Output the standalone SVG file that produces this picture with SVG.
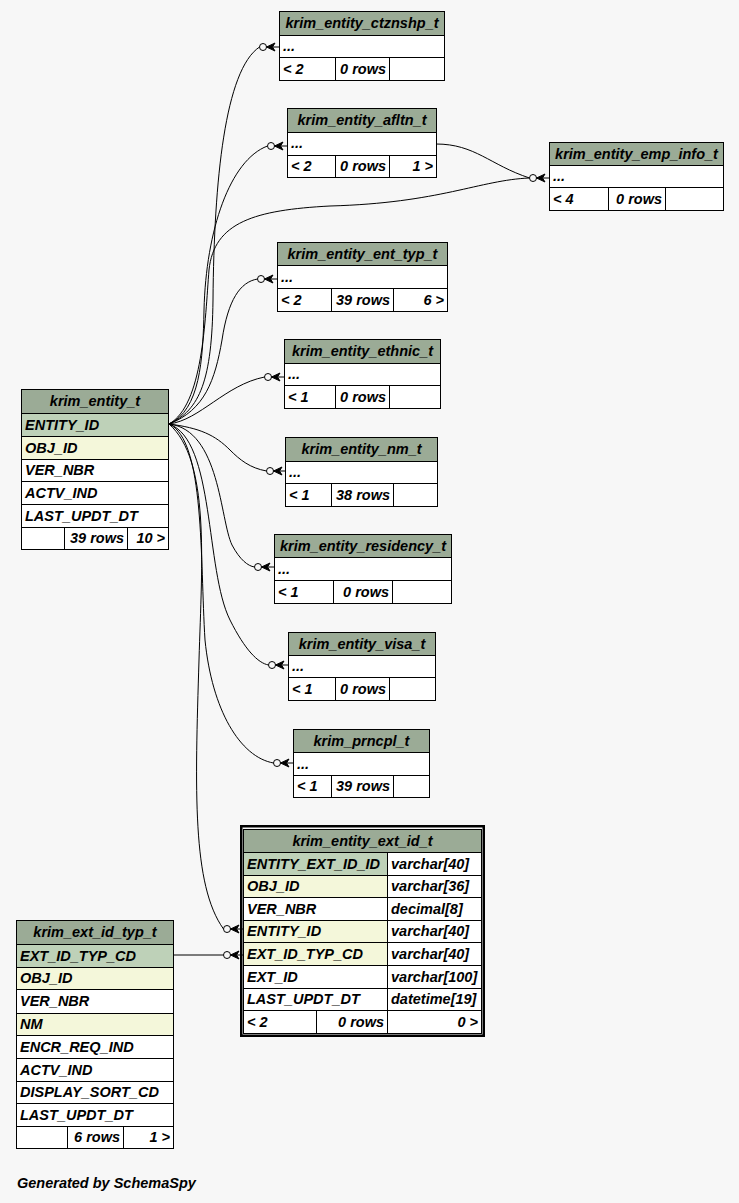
<svg xmlns="http://www.w3.org/2000/svg" width="739" height="1203" viewBox="0 0 739 1203">
<style>
text{font-family:"Liberation Sans",Arial,Helvetica,sans-serif;font-weight:bold;font-style:italic;font-size:14.5px;fill:#000}
.m{text-anchor:middle}
.e{text-anchor:end}
.t{fill:#9bab96;stroke:#000;stroke-width:1}
.c{fill:#fff;stroke:#000;stroke-width:1}
.pk{fill:#bed1b8;stroke:#000;stroke-width:1}
.ix{fill:#f4f7da;stroke:#000;stroke-width:1}
.ln{fill:none;stroke:#000;stroke-width:1}
.dot{fill:#f7f7f7;stroke:#000;stroke-width:1}
.crow{fill:#000;stroke:#000;stroke-width:1;stroke-linejoin:miter}
</style>
<defs>
<g id="end">
<circle class="dot" cx="-16" cy="0" r="3.5"/>
<path class="crow" d="M-12.5,0 L-4,-4 L-6.5,0 L-4,4 Z M-6.5,0 L0,0"/>
</g>
</defs>
<rect width="739" height="1203" fill="#f7f7f7"/>

<g id="connectors">
<path class="ln" d="M169,424 C200,410 212,380 213,300 C214,180 225,70 259.5,47"/>
<path class="ln" d="M169,424 C200,410 203,360 204,310 C206,230 230,160 267.5,146"/>
<path class="ln" d="M169,424 C203,405 205,320 209,270 C214,222 255,210 330,206 C440,203 480,180 529.5,178"/>
<path class="ln" d="M436,144 C475,144 490,165 529.5,178"/>
<path class="ln" d="M169,424 C205,410 215,380 222,340 C228,300 240,282 257.5,279"/>
<path class="ln" d="M169,424 C200,420 225,385 264.5,377"/>
<path class="ln" d="M169,424 C200,428 215,435 230,450 C240,460 250,468 266.5,471"/>
<path class="ln" d="M169,424 C220,430 220,520 232,545 C240,560 248,566 254.5,567"/>
<path class="ln" d="M169,424 C215,440 205,570 230,620 C245,650 258,663 268.5,665"/>
<path class="ln" d="M169,424 C205,440 200,560 205,640 C212,710 240,757 273.5,763"/>
<path class="ln" d="M169,424 C210,460 202,560 199,660 C195,790 192,885 223.5,929"/>
<path class="ln" d="M173,955 L223.5,955"/>
<use href="#end" x="279" y="47"/>
<use href="#end" x="287" y="146"/>
<use href="#end" x="549" y="178"/>
<use href="#end" x="277" y="279"/>
<use href="#end" x="284" y="377"/>
<use href="#end" x="286" y="471"/>
<use href="#end" x="274" y="567"/>
<use href="#end" x="288" y="665"/>
<use href="#end" x="293" y="763"/>
<use href="#end" x="243" y="929"/>
<use href="#end" x="243" y="955"/>
</g>

<g id="krim_entity_ctznshp_t">
<rect class="t" x="279.5" y="11.5" width="165" height="24"/>
<rect class="c" x="279.5" y="35.5" width="165" height="22"/>
<rect class="c" x="279.5" y="57.5" width="56" height="23"/>
<rect class="c" x="335.5" y="57.5" width="54" height="23"/>
<rect class="c" x="389.5" y="57.5" width="55" height="23"/>
<text class="m" x="362" y="28">krim_entity_ctznshp_t</text>
<text x="283" y="51">...</text>
<text x="283" y="74">&lt; 2</text>
<text class="e" x="386" y="74">0 rows</text>
</g>

<g id="krim_entity_afltn_t">
<rect class="t" x="287.5" y="108.5" width="149" height="24"/>
<rect class="c" x="287.5" y="132.5" width="149" height="23"/>
<rect class="c" x="287.5" y="155.5" width="48" height="22"/>
<rect class="c" x="335.5" y="155.5" width="54" height="22"/>
<rect class="c" x="389.5" y="155.5" width="47" height="22"/>
<text class="m" x="362" y="125">krim_entity_afltn_t</text>
<text x="291" y="148">...</text>
<text x="291" y="171">&lt; 2</text>
<text class="e" x="386" y="171">0 rows</text>
<text class="e" x="433" y="171">1 &gt;</text>
</g>

<g id="krim_entity_emp_info_t">
<rect class="t" x="549.5" y="142.5" width="174" height="23"/>
<rect class="c" x="549.5" y="165.5" width="174" height="22"/>
<rect class="c" x="549.5" y="187.5" width="59" height="23"/>
<rect class="c" x="608.5" y="187.5" width="57" height="23"/>
<rect class="c" x="665.5" y="187.5" width="58" height="23"/>
<text class="m" x="636.5" y="159">krim_entity_emp_info_t</text>
<text x="553" y="181">...</text>
<text x="553" y="204">&lt; 4</text>
<text class="e" x="662" y="204">0 rows</text>
</g>

<g id="krim_entity_ent_typ_t">
<rect class="t" x="277.5" y="242.5" width="170" height="23"/>
<rect class="c" x="277.5" y="265.5" width="170" height="23"/>
<rect class="c" x="277.5" y="288.5" width="54" height="23"/>
<rect class="c" x="331.5" y="288.5" width="62" height="23"/>
<rect class="c" x="393.5" y="288.5" width="54" height="23"/>
<text class="m" x="362.5" y="259">krim_entity_ent_typ_t</text>
<text x="281" y="282">...</text>
<text x="281" y="305">&lt; 2</text>
<text class="e" x="390" y="305">39 rows</text>
<text class="e" x="444" y="305">6 &gt;</text>
</g>

<g id="krim_entity_ethnic_t">
<rect class="t" x="284.5" y="339.5" width="156" height="24"/>
<rect class="c" x="284.5" y="363.5" width="156" height="22"/>
<rect class="c" x="284.5" y="385.5" width="51" height="23"/>
<rect class="c" x="335.5" y="385.5" width="54" height="23"/>
<rect class="c" x="389.5" y="385.5" width="51" height="23"/>
<text class="m" x="362.5" y="356">krim_entity_ethnic_t</text>
<text x="288" y="379">...</text>
<text x="288" y="402">&lt; 1</text>
<text class="e" x="386" y="402">0 rows</text>
</g>

<g id="krim_entity_nm_t">
<rect class="t" x="285.5" y="437.5" width="152" height="24"/>
<rect class="c" x="285.5" y="461.5" width="152" height="22"/>
<rect class="c" x="285.5" y="483.5" width="46" height="23"/>
<rect class="c" x="331.5" y="483.5" width="62" height="23"/>
<rect class="c" x="393.5" y="483.5" width="44" height="23"/>
<text class="m" x="361.5" y="454">krim_entity_nm_t</text>
<text x="289" y="477">...</text>
<text x="289" y="500">&lt; 1</text>
<text class="e" x="390" y="500">38 rows</text>
</g>

<g id="krim_entity_residency_t">
<rect class="t" x="274.5" y="534.5" width="177" height="23"/>
<rect class="c" x="274.5" y="557.5" width="177" height="23"/>
<rect class="c" x="274.5" y="580.5" width="59" height="23"/>
<rect class="c" x="333.5" y="580.5" width="59" height="23"/>
<rect class="c" x="392.5" y="580.5" width="59" height="23"/>
<text class="m" x="363" y="551">krim_entity_residency_t</text>
<text x="278" y="574">...</text>
<text x="278" y="597">&lt; 1</text>
<text class="e" x="389" y="597">0 rows</text>
</g>

<g id="krim_entity_visa_t">
<rect class="t" x="288.5" y="632.5" width="147" height="23"/>
<rect class="c" x="288.5" y="655.5" width="147" height="22"/>
<rect class="c" x="288.5" y="677.5" width="47" height="23"/>
<rect class="c" x="335.5" y="677.5" width="54" height="23"/>
<rect class="c" x="389.5" y="677.5" width="46" height="23"/>
<text class="m" x="362" y="649">krim_entity_visa_t</text>
<text x="292" y="671">...</text>
<text x="292" y="694">&lt; 1</text>
<text class="e" x="386" y="694">0 rows</text>
</g>

<g id="krim_prncpl_t">
<rect class="t" x="293.5" y="729.5" width="136" height="23"/>
<rect class="c" x="293.5" y="752.5" width="136" height="23"/>
<rect class="c" x="293.5" y="775.5" width="38" height="22"/>
<rect class="c" x="331.5" y="775.5" width="62" height="22"/>
<rect class="c" x="393.5" y="775.5" width="36" height="22"/>
<text class="m" x="361.5" y="746">krim_prncpl_t</text>
<text x="297" y="769">...</text>
<text x="297" y="791">&lt; 1</text>
<text class="e" x="390" y="791">39 rows</text>
</g>

<g id="krim_entity_t">
<rect class="t" x="21.5" y="389.5" width="147" height="24"/>
<rect class="pk" x="21.5" y="413.5" width="147" height="23"/>
<rect class="ix" x="21.5" y="436.5" width="147" height="23"/>
<rect class="c" x="21.5" y="459.5" width="147" height="22"/>
<rect class="c" x="21.5" y="481.5" width="147" height="23"/>
<rect class="c" x="21.5" y="504.5" width="147" height="23"/>
<rect class="c" x="21.5" y="527.5" width="43" height="22"/>
<rect class="c" x="64.5" y="527.5" width="63" height="22"/>
<rect class="c" x="127.5" y="527.5" width="41" height="22"/>
<text class="m" x="95" y="406">krim_entity_t</text>
<text x="25" y="430">ENTITY_ID</text>
<text x="25" y="453">OBJ_ID</text>
<text x="25" y="475">VER_NBR</text>
<text x="25" y="498">ACTV_IND</text>
<text x="25" y="521">LAST_UPDT_DT</text>
<text class="e" x="124" y="543">39 rows</text>
<text class="e" x="165" y="543">10 &gt;</text>
</g>

<g id="krim_entity_ext_id_t">
<rect x="241.25" y="826.25" width="242.5" height="209.5" fill="none" stroke="#000" stroke-width="2.5"/>
<rect class="t" x="243.5" y="829.5" width="238" height="23"/>
<rect class="pk" x="243.5" y="852.5" width="144" height="23"/>
<rect class="c" x="387.5" y="852.5" width="94" height="23"/>
<rect class="ix" x="243.5" y="875.5" width="144" height="22"/>
<rect class="c" x="387.5" y="875.5" width="94" height="22"/>
<rect class="c" x="243.5" y="897.5" width="144" height="23"/>
<rect class="c" x="387.5" y="897.5" width="94" height="23"/>
<rect class="ix" x="243.5" y="920.5" width="144" height="22"/>
<rect class="c" x="387.5" y="920.5" width="94" height="22"/>
<rect class="ix" x="243.5" y="942.5" width="144" height="23"/>
<rect class="c" x="387.5" y="942.5" width="94" height="23"/>
<rect class="c" x="243.5" y="965.5" width="144" height="23"/>
<rect class="c" x="387.5" y="965.5" width="94" height="23"/>
<rect class="c" x="243.5" y="988.5" width="144" height="22"/>
<rect class="c" x="387.5" y="988.5" width="94" height="22"/>
<rect class="c" x="243.5" y="1010.5" width="73" height="23"/>
<rect class="c" x="316.5" y="1010.5" width="71" height="23"/>
<rect class="c" x="387.5" y="1010.5" width="94" height="23"/>
<text class="m" x="362.5" y="846">krim_entity_ext_id_t</text>
<text x="247" y="869">ENTITY_EXT_ID_ID</text>
<text x="391" y="869">varchar[40]</text>
<text x="247" y="891">OBJ_ID</text>
<text x="391" y="891">varchar[36]</text>
<text x="247" y="914">VER_NBR</text>
<text x="391" y="914">decimal[8]</text>
<text x="247" y="936">ENTITY_ID</text>
<text x="391" y="936">varchar[40]</text>
<text x="247" y="959">EXT_ID_TYP_CD</text>
<text x="391" y="959">varchar[40]</text>
<text x="247" y="982">EXT_ID</text>
<text x="391" y="982">varchar[100]</text>
<text x="247" y="1004">LAST_UPDT_DT</text>
<text x="391" y="1004">datetime[19]</text>
<text x="247" y="1027">&lt; 2</text>
<text class="e" x="384" y="1027">0 rows</text>
<text class="e" x="478" y="1027">0 &gt;</text>
</g>

<g id="krim_ext_id_typ_t">
<rect class="t" x="16.5" y="920.5" width="157" height="24"/>
<rect class="pk" x="16.5" y="944.5" width="157" height="23"/>
<rect class="ix" x="16.5" y="967.5" width="157" height="22"/>
<rect class="c" x="16.5" y="989.5" width="157" height="24"/>
<rect class="ix" x="16.5" y="1013.5" width="157" height="22"/>
<rect class="c" x="16.5" y="1035.5" width="157" height="23"/>
<rect class="c" x="16.5" y="1058.5" width="157" height="23"/>
<rect class="c" x="16.5" y="1081.5" width="157" height="22"/>
<rect class="c" x="16.5" y="1103.5" width="157" height="23"/>
<rect class="c" x="16.5" y="1126.5" width="51" height="22"/>
<rect class="c" x="67.5" y="1126.5" width="56" height="22"/>
<rect class="c" x="123.5" y="1126.5" width="50" height="22"/>
<text class="m" x="95" y="937">krim_ext_id_typ_t</text>
<text x="20" y="961">EXT_ID_TYP_CD</text>
<text x="20" y="983">OBJ_ID</text>
<text x="20" y="1006">VER_NBR</text>
<text x="20" y="1029">NM</text>
<text x="20" y="1052">ENCR_REQ_IND</text>
<text x="20" y="1075">ACTV_IND</text>
<text x="20" y="1097">DISPLAY_SORT_CD</text>
<text x="20" y="1120">LAST_UPDT_DT</text>
<text class="e" x="120" y="1142">6 rows</text>
<text class="e" x="170" y="1142">1 &gt;</text>
</g>

<text x="17" y="1188">Generated by SchemaSpy</text>
</svg>
